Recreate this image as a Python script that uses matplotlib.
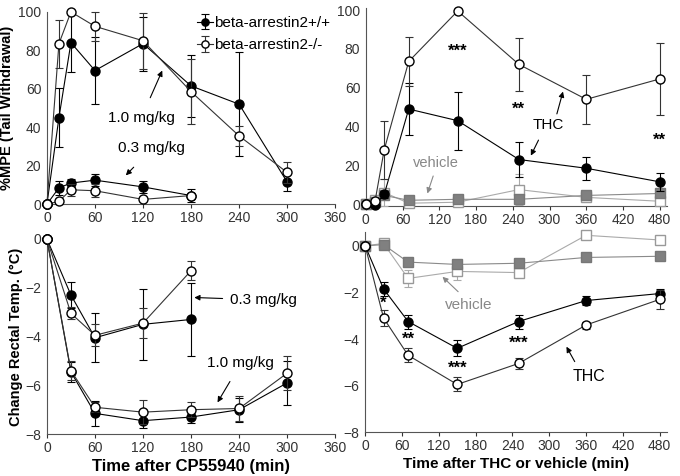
import matplotlib.pyplot as plt

plt.rcParams['font.family'] = ['Liberation Sans', 'DejaVu Sans']

# --- CP55940 data (top-left: %MPE, bottom-left: rectal temp) ---
t_cp = [0, 15, 30, 60, 120, 180, 240, 300]
mpe_hi_wt = [0, 45, 84, 69.5, 83.5, 61.5, 52, 11.5]
mpe_hi_wt_err = [0, 15.5, 15, 17.5, 14, 16, 27, 4.5]
mpe_hi_ko = [0, 83.5, 100, 92.5, 85, 58.5, 35.5, 16.5]
mpe_hi_ko_err = [0, 12.5, 0, 7.5, 14.5, 17, 5, 5.5]

t_cp_lo = [0, 15, 30, 60, 120, 180]
mpe_lo_wt = [0, 8.5, 11, 12.5, 9, 4.5]
mpe_lo_wt_err = [0, 3.5, 2, 3, 3, 3.5]
mpe_lo_ko = [0, 1.5, 7.5, 7, 2.5, 4.5]
mpe_lo_ko_err = [0, 1, 3, 3.5, 1, 1]

t_temp = [0, 30, 60, 120, 180, 240, 300]
temp_hi_wt = [0, -5.45, -7.15, -7.45, -7.3, -7.0, -5.9]
temp_hi_wt_err = [0, 0.4, 0.5, 0.3, 0.25, 0.5, 0.9]
temp_hi_ko = [0, -5.4, -6.9, -7.1, -7.0, -6.95, -5.5]
temp_hi_ko_err = [0, 0.4, 0.2, 0.5, 0.3, 0.5, 0.7]

t_temp_lo = [0, 30, 60, 120, 180]
temp_lo_wt = [0, -2.3, -4.05, -3.5, -3.3]
temp_lo_wt_err = [0, 0.55, 1.0, 1.45, 1.5]
temp_lo_ko = [0, -3.05, -3.95, -3.45, -1.3]
temp_lo_ko_err = [0, 0.25, 0.45, 0.6, 0.4]

# --- THC data (top-right: %MPE, bottom-right: rectal temp) ---
t_thc = [0, 15, 30, 70, 150, 250, 360, 480]
thc_wt = [0, -0.5, 5, 49, 43, 23, 18.5, 11.5]
thc_wt_err = [0, 1, 2, 13.5, 15, 9, 6, 4.5]
thc_ko = [0, 1.5, 28, 73.5, 99.5, 72, 54, 64.5]
thc_ko_err = [0, 1, 15, 12.5, 0, 13.5, 12.5, 18.5]
veh_wt = [0, 1, 4.5, 2, 2.5, 2.5, 4.5, 5.5]
veh_wt_err = [0, 1, 2, 1, 1, 1, 1, 1]
veh_ko = [0, 2, 6, 0.5, 1, 7.5, 3.5, 1.5]
veh_ko_err = [0, 1, 7, 1, 1, 8, 1, 1]

t_thc2 = [0, 30, 70, 150, 250, 360, 480]
tthc_wt = [0, -1.85, -3.25, -4.4, -3.25, -2.35, -2.05]
tthc_wt_err = [0, 0.3, 0.3, 0.35, 0.3, 0.2, 0.2]
tthc_ko = [0, -3.1, -4.7, -5.95, -5.05, -3.4, -2.3]
tthc_ko_err = [0, 0.35, 0.3, 0.3, 0.25, 0.15, 0.4]
tveh_wt = [0, 0.05, -0.7, -0.8, -0.75, -0.5, -0.45]
tveh_wt_err = [0, 0.1, 0.15, 0.2, 0.2, 0.1, 0.1]
tveh_ko = [0, 0.1, -1.4, -1.1, -1.15, 0.45, 0.25]
tveh_ko_err = [0, 0.1, 0.35, 0.35, 0.2, 0.1, 0.1]

fig = plt.figure(figsize=(6.8, 4.76), dpi=100)
ax1 = fig.add_axes([0.069, 0.571, 0.424, 0.404])
ax2 = fig.add_axes([0.538, 0.567, 0.443, 0.416])
ax3 = fig.add_axes([0.069, 0.088, 0.424, 0.410])
ax4 = fig.add_axes([0.537, 0.092, 0.444, 0.421])

ms = 6.5
kw = dict(lw=0.8, capsize=3, elinewidth=0.8, capthick=0.8, clip_on=False)


def wt(ax, x, y, e):
    return ax.errorbar(x, y, yerr=e, fmt='-o', color='black', mfc='black',
                       mec='black', ms=ms, zorder=4, **kw)


def ko(ax, x, y, e):
    return ax.errorbar(x, y, yerr=e, fmt='-o', color='#333333', mfc='white',
                       mec='black', ms=ms, zorder=5, **kw)


def veh_f(ax, x, y, e):
    ax.errorbar(x, y, yerr=e, fmt='-s', color='#8a8a8a', mfc='#808080',
                mec='#777777', ms=6.5, zorder=3, **kw)


def veh_o(ax, x, y, e):
    ax.errorbar(x, y, yerr=e, fmt='-s', color='#aaaaaa', mfc='white',
                mec='#999999', ms=6.5, zorder=3, **kw)


arrow_k = dict(arrowstyle='-|>', color='black', lw=0.8, shrinkA=0, shrinkB=0,
               mutation_scale=8)
arrow_g = dict(arrow_k, color='#888888')
star_kw = dict(ha='center', va='center', fontsize=12, fontweight='bold')

# top-left
h1 = wt(ax1, t_cp, mpe_hi_wt, mpe_hi_wt_err)
h2 = ko(ax1, t_cp, mpe_hi_ko, mpe_hi_ko_err)
wt(ax1, t_cp_lo, mpe_lo_wt, mpe_lo_wt_err)
ko(ax1, t_cp_lo, mpe_lo_ko, mpe_lo_ko_err)
ax1.set_xlim(0, 360)
ax1.set_ylim(0, 100)
ax1.set_xticks(range(0, 361, 60))
ax1.set_yticks(range(0, 101, 20))
ax1.set_ylabel('%MPE (Tail Withdrawal)', fontweight='bold', fontsize=10.5,
               labelpad=3)
ax1.legend([h1, h2], ['beta-arrestin2+/+', 'beta-arrestin2-/-'],
           loc='upper right', bbox_to_anchor=(1.03, 1.05), frameon=False,
           fontsize=11, handlelength=1.0, handletextpad=0.1,
           labelspacing=0.55, markerscale=0.8)
ax1.annotate('1.0 mg/kg', xy=(144, 69.5), xytext=(118, 45), fontsize=11,
             ha='center', va='center',
             arrowprops=dict(arrow_k, shrinkA=8))
ax1.annotate('0.3 mg/kg', xy=(98.5, 15), xytext=(131, 29), fontsize=11,
             ha='center', va='center',
             arrowprops=dict(arrow_k, shrinkA=9))

# top-right
veh_o(ax2, t_thc, veh_ko, veh_ko_err)
veh_f(ax2, t_thc, veh_wt, veh_wt_err)
wt(ax2, t_thc, thc_wt, thc_wt_err)
ko(ax2, t_thc, thc_ko, thc_ko_err)
ax2.set_xlim(0, 492)
ax2.set_ylim(-1, 101)
ax2.set_xticks(range(0, 481, 60))
ax2.set_yticks(range(0, 101, 20))
ax2.text(150, 79, '***', **star_kw)
ax2.text(250, 49, '**', **star_kw)
ax2.text(480, 33, '**', **star_kw)
ax2.text(298, 41, 'THC', ha='center', va='center', fontsize=11)
ax2.annotate('', xy=(322, 58), xytext=(312, 46.5), arrowprops=arrow_k)
ax2.annotate('', xy=(269.5, 25), xytext=(282, 33), arrowprops=arrow_k)
ax2.text(114, 21, 'vehicle', ha='center', va='center', fontsize=10.5,
         color='#888888')
ax2.annotate('', xy=(100.5, 5.5), xytext=(110, 14.5), arrowprops=arrow_g)

# bottom-left
wt(ax3, t_temp, temp_hi_wt, temp_hi_wt_err)
ko(ax3, t_temp, temp_hi_ko, temp_hi_ko_err)
wt(ax3, t_temp_lo, temp_lo_wt, temp_lo_wt_err)
ko(ax3, t_temp_lo, temp_lo_ko, temp_lo_ko_err)
ax3.set_xlim(0, 360)
ax3.set_ylim(-8, 0)
ax3.set_xticks(range(0, 361, 60))
ax3.set_yticks(range(-8, 1, 2))
ax3.set_ylabel('Change Rectal Temp. (\u00b0C)', fontweight='bold', fontsize=10.5,
               labelpad=2)
ax3.set_xlabel('Time after CP55940 (min)', fontweight='bold', fontsize=12,
               labelpad=3)
ax3.annotate('0.3 mg/kg', xy=(184, -2.4), xytext=(228, -2.5), fontsize=11,
             ha='left', va='center',
             arrowprops=dict(arrow_k, shrinkA=3))
ax3.annotate('1.0 mg/kg', xy=(213, -6.7), xytext=(242, -5.1), fontsize=11,
             ha='center', va='center',
             arrowprops=dict(arrow_k, shrinkA=7))

# bottom-right
veh_o(ax4, t_thc2, tveh_ko, tveh_ko_err)
veh_f(ax4, t_thc2, tveh_wt, tveh_wt_err)
wt(ax4, t_thc2, tthc_wt, tthc_wt_err)
ko(ax4, t_thc2, tthc_ko, tthc_ko_err)
ax4.set_xlim(0, 492)
ax4.set_ylim(-8, 0.6)
ax4.set_xticks(range(0, 481, 60))
ax4.set_yticks(range(-8, 1, 2))
ax4.set_xlabel('Time after THC or vehicle (min)', fontweight='bold', fontsize=11,
               labelpad=3)
ax4.text(30, -2.45, '*', **star_kw)
ax4.text(70, -4.0, '**', **star_kw)
ax4.text(150, -5.25, '***', **star_kw)
ax4.text(250, -4.2, '***', **star_kw)
ax4.text(168, -2.55, 'vehicle', ha='center', va='center', fontsize=11,
         color='#888888')
ax4.annotate('', xy=(126, -1.33), xytext=(151.5, -1.97), arrowprops=arrow_g)
ax4.text(365, -5.6, 'THC', ha='center', va='center', fontsize=11.5)
ax4.annotate('', xy=(328, -4.33), xytext=(341.5, -4.97), arrowprops=arrow_k)

for ax in (ax1, ax2, ax3, ax4):
    ax.spines['top'].set_visible(False)
    ax.spines['right'].set_visible(False)
    ax.spines['left'].set_color('#555555')
    ax.spines['bottom'].set_color('#555555')
    ax.tick_params(labelsize=10, colors='#333333', length=3, width=0.8,
                   pad=2)
    ax.tick_params(axis='y', length=0, pad=4)

fig.savefig('out.png', dpi=100)
